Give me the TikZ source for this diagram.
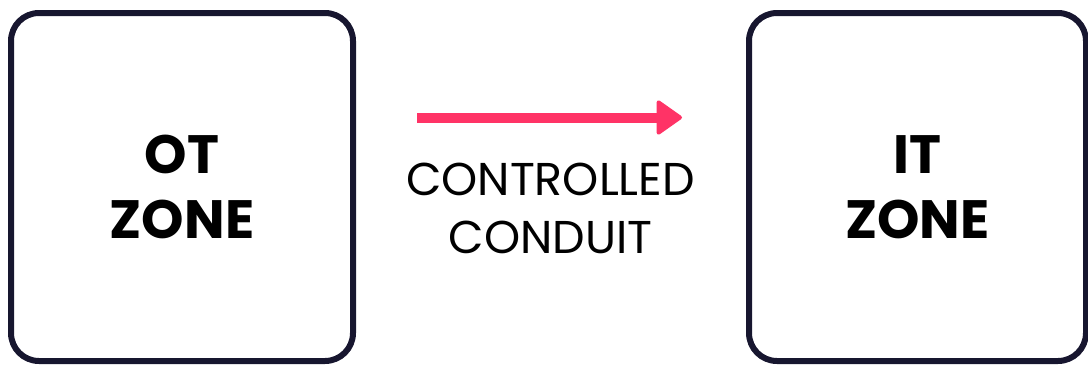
\documentclass[tikz,border=0pt]{standalone}
\usepackage{fontspec}
\setmainfont{Poppins}
\usepackage{xcolor}
\usepackage{tikz}
\usetikzlibrary{
	arrows.meta,
	positioning
}
\definecolor{zoneframe}{HTML}{17162F}
\definecolor{conduitpink}{HTML}{FF3366}

\begin{document}
\begin{tikzpicture}[x=1pt, y=-1pt,
	zone/.style={draw=zoneframe, line width=6pt, rounded corners=28pt,
		inner sep=0pt, align=center, font=\fontsize{54}{65}\selectfont\bfseries},
	conduit/.style={draw=conduitpink, line width=10pt,
		-{Triangle[length=27pt, width=37pt, line width=4pt, round]}},
	label/.style={align=center, inner sep=0pt, font=\fontsize{46}{58}\selectfont}]
	\useasboundingbox (0,0) rectangle (1088,365);
	
	% 两个区域
	\node[zone, minimum width=342pt, minimum height=348pt] (ot) at (182,187) {OT\\ZONE};
	\node[zone, minimum width=337pt, minimum height=348pt] (it) at (917.5,187) {IT\\ZONE};
	
	% 箭头和说明
	\coordinate (arrowstart) at (417,117.5);
	\coordinate (arrowend) at (682,117.5);
	\draw[conduit] (arrowstart) -- (arrowend);
	\node[label] (conduit) at (550.5,208.5) {CONTROLLED\\CONDUIT};
\end{tikzpicture}
\end{document}
